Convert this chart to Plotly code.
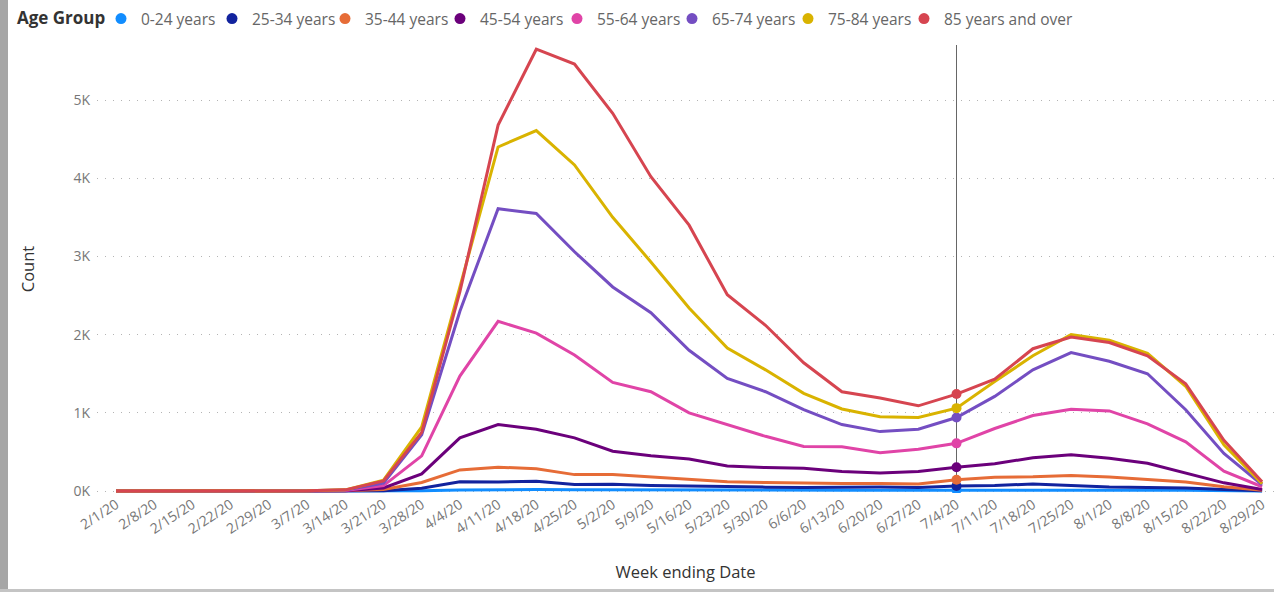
import plotly.graph_objects as go

# ---------------- data ----------------
dates = ["2/1/20", "2/8/20", "2/15/20", "2/22/20", "2/29/20", "3/7/20", "3/14/20",
         "3/21/20", "3/28/20", "4/4/20", "4/11/20", "4/18/20", "4/25/20", "5/2/20",
         "5/9/20", "5/16/20", "5/23/20", "5/30/20", "6/6/20", "6/13/20", "6/20/20",
         "6/27/20", "7/4/20", "7/11/20", "7/18/20", "7/25/20", "8/1/20", "8/8/20",
         "8/15/20", "8/22/20", "8/29/20"]

groups = ["0-24 years", "25-34 years", "35-44 years", "45-54 years",
          "55-64 years", "65-74 years", "75-84 years", "85 years and over"]

v_0_24 = [0, 0, 0, 0, 0, 0, 0, 1, 4, 12, 18, 20, 16, 14, 12, 11, 10, 10, 9, 10, 10,
          11, 13, 14, 16, 15, 13, 11, 9, 6, 1]
v_25_34 = [0, 0, 0, 0, 0, 0, 1, 4, 35, 120, 115, 125, 85, 88, 72, 62, 55, 50, 45, 48,
           52, 45, 65, 70, 90, 72, 52, 46, 38, 20, 4]
v_35_44 = [0, 0, 0, 0, 0, 1, 3, 20, 110, 270, 305, 285, 210, 210, 180, 150, 120, 108,
           100, 98, 98, 90, 145, 175, 182, 200, 180, 150, 115, 55, 10]
v_45_54 = [0, 0, 0, 0, 0, 1, 4, 40, 220, 680, 850, 790, 680, 510, 450, 410, 320, 300,
           290, 250, 230, 250, 305, 350, 425, 465, 420, 355, 235, 105, 20]
v_55_64 = [0, 0, 0, 0, 1, 2, 8, 70, 450, 1470, 2170, 2020, 1740, 1390, 1270, 1000, 850,
           700, 570, 565, 490, 535, 610, 800, 965, 1045, 1025, 860, 630, 255, 55]
v_65_74 = [0, 0, 0, 0, 1, 3, 12, 100, 720, 2300, 3610, 3550, 3060, 2610, 2280, 1800,
           1440, 1270, 1040, 850, 760, 790, 940, 1210, 1550, 1770, 1660, 1500, 1040, 480, 80]
v_75_84 = [0, 0, 0, 0, 1, 3, 15, 140, 820, 2620, 4400, 4610, 4170, 3500, 2930, 2340,
           1830, 1550, 1250, 1050, 950, 940, 1060, 1400, 1730, 2000, 1930, 1760, 1340, 590, 95]
v_85_up = [0, 0, 0, 0, 1, 3, 15, 130, 750, 2550, 4680, 5650, 5460, 4830, 4020, 3400,
           2510, 2120, 1640, 1270, 1190, 1090, 1240, 1430, 1820, 1970, 1900, 1730, 1370, 650, 120]

series = [v_0_24, v_25_34, v_35_44, v_45_54, v_55_64, v_65_74, v_75_84, v_85_up]

y_tick_vals = [0, 1000, 2000, 3000, 4000, 5000]
y_tick_text = ["0K", "1K", "2K", "3K", "4K", "5K"]

legend_title = "Age Group"
hover_date = "7/4/20"

# ---------------- style ----------------
colors = ["#118DFF", "#12239E", "#E66C37", "#6B007B",
          "#E044A7", "#744EC2", "#D9B300", "#D64550"]
# pixel x of each legend entry's symbol (layout only)
legend_symbol_px = [122, 233, 346, 461, 578, 693, 809, 925]

FONT = "Segoe UI, Open Sans, sans-serif"
W, H = 1274, 592
ML, MR, MT, MB = 97, 0, 45, 99
PW, PH = W - ML - MR, H - MT - MB


def px_x(px):
    return (px - ML) / PW


def px_y(py):
    return (H - MB - py) / PH


def legend_id(i):
    return "legend" if i == 0 else "legend%d" % (i + 1)


fig = go.Figure()

hi = dates.index(hover_date)

for name, vals, col in zip(groups, series, colors):
    fig.add_trace(go.Scatter(
        x=dates, y=vals, mode="lines", name=name, legendgroup=name,
        showlegend=False, line=dict(color=col, width=3), hoverinfo="skip"))

for name, vals, col in zip(groups, series, colors):
    fig.add_trace(go.Scatter(
        x=[dates[hi]], y=[vals[hi]], mode="markers", name=name, legendgroup=name,
        showlegend=False, marker=dict(color=col, size=10), hoverinfo="skip"))

# legend entries (circle symbols), one small legend per entry for exact spacing
for i, (name, col) in enumerate(zip(groups, colors)):
    fig.add_trace(go.Scatter(
        x=[None], y=[None], mode="markers", name=name, legendgroup=name,
        showlegend=True, legend=legend_id(i),
        marker=dict(color=col, size=11, symbol="circle")))

# hover crosshair
fig.add_shape(type="line", xref="x", yref="paper", x0=dates[hi], x1=dates[hi],
              y0=px_y(492), y1=px_y(45), line=dict(color="#666666", width=1), layer="below")

# frame decorations (left bar and bottom rule)
fig.add_shape(type="rect", xref="paper", yref="paper",
              x0=px_x(0), x1=px_x(8), y0=px_y(592), y1=px_y(0),
              fillcolor="#A6A6A6", line=dict(width=0))
fig.add_shape(type="rect", xref="paper", yref="paper",
              x0=px_x(0), x1=px_x(1274), y0=px_y(592), y1=px_y(589),
              fillcolor="#C4C4C4", line=dict(width=0))

fig.add_annotation(text="<b>" + legend_title + "</b>", xref="paper", yref="paper",
                   x=px_x(15), y=px_y(18), xanchor="left", yanchor="middle",
                   showarrow=False, font=dict(size=17, color="#333333", family=FONT))

legend_common = dict(
    orientation="h", yanchor="top", y=px_y(2), xanchor="left",
    font=dict(size=15.5, color="#666666", family=FONT),
    itemwidth=30, tracegroupgap=0, bgcolor="rgba(0,0,0,0)",
)

legends = {legend_id(i): dict(legend_common, x=px_x(legend_symbol_px[i] - 21))
           for i in range(len(groups))}

fig.update_layout(
    width=W, height=H,
    margin=dict(l=ML, r=MR, t=MT, b=MB, autoexpand=False),
    paper_bgcolor="white", plot_bgcolor="white",
    font=dict(family=FONT, color="#605E5C"),
    showlegend=True,
    xaxis=dict(
        type="category", range=[-0.5, -0.5 + PW / 38.2],
        showgrid=False, zeroline=False, showline=False, ticks="",
        tickangle=-33, tickfont=dict(size=14, color="#777777", family=FONT),
        title=dict(text="Week ending Date", standoff=29,
                   font=dict(size=16.5, color="#333333", family=FONT)),
        automargin=False,
    ),
    yaxis=dict(
        range=[-25, 5704], tickvals=y_tick_vals, ticktext=y_tick_text,
        showgrid=True, gridcolor="#B4B4B4", griddash="1px,7px", gridwidth=1,
        zeroline=False, showline=False, ticks="",
        tickfont=dict(size=14, color="#777777", family=FONT),
        ticklabelstandoff=6,
        title=dict(text="Count", standoff=34,
                   font=dict(size=16.5, color="#333333", family=FONT)),
        automargin=False,
    ),
    hovermode=False,
)
fig.update_layout(**legends)

fig.write_html("out.html", config={"displayModeBar": False},
               post_script="document.body.style.margin='0';")
